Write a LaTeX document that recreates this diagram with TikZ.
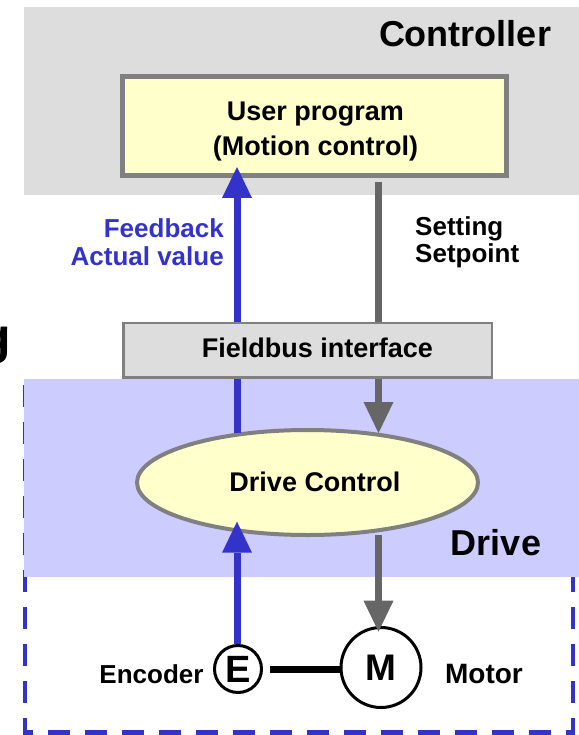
\documentclass[tikz,border=0pt]{standalone}
\usepackage{fontspec}
\setmainfont{Liberation Sans}
\usetikzlibrary{arrows.meta,shapes.geometric}
\definecolor{ctrlgray}{HTML}{DDDDDD}
\definecolor{yellowfill}{HTML}{FFFFCC}
\definecolor{bordergray}{HTML}{808080}
\definecolor{fbblue}{HTML}{3333CC}
\definecolor{arrowgray}{HTML}{666666}
\definecolor{drivebg}{HTML}{CCCCFF}
\begin{document}
\begin{tikzpicture}[x=1pt,y=-1pt,
  every node/.style={inner sep=0pt},
  fsz/.style={font=\bfseries\fontsize{#1}{#1}\selectfont},
  userbox/.style={draw=bordergray, line width=5pt, fill=yellowfill, minimum width=384pt, minimum height=99pt},
  busbox/.style={draw=bordergray, line width=2.5pt, fill=ctrlgray, minimum width=368.5pt, minimum height=54.7pt},
  drivectl/.style={ellipse, draw=bordergray, line width=4pt, fill=yellowfill, minimum width=341pt, minimum height=105pt},
  devcircle/.style={circle, draw=black, line width=3pt, fill=white},
  fbline/.style={draw=fbblue, line width=7pt},
  spline/.style={draw=arrowgray, line width=7pt},
  fbarrow/.style={fbline, -{Triangle[length=31pt,width=30pt,line width=0pt]}},
  sparrow/.style={spline, -{Triangle[length=31pt,width=30pt,line width=0pt]}},
  shaft/.style={draw=black, line width=7pt},
  dashrect/.style={draw=fbblue, line width=4.5pt, dash pattern=on 22pt off 15pt}
]
\useasboundingbox (0,0) rectangle (578,735);
% background regions
\fill[ctrlgray] (24,7) rectangle (580,195);
\draw[dashrect] (25,385) rectangle (573,732.5);
\fill[drivebg] (24,379) rectangle (580,577);
% cut-off text at left edge
\node[fsz=50, anchor=base east] (gfrag) at (11.5,353.5) {g};
% reference columns
\coordinate (bx) at (237,0);
\coordinate (sx) at (378.5,0);
% boxes
\node[userbox] (UP) at (314.5,126) {};
\node[font=\bfseries\fontsize{27}{35}\selectfont, align=center, anchor=north] (UPtext) at (315.5,101.7) {User program\\(Motion control)};
\node[busbox] (FB) at (307.5,350.3) {};
\node[fsz=27, anchor=base] (FBtext) at (317.4,357.7) {Fieldbus interface};
\node[drivectl] (DC) at (307.5,482.5) {};
\node[fsz=27, anchor=base] (DCtext) at (315,491) {Drive Control};
\node[devcircle, minimum size=47pt, fsz=38] (E) at (238,669) {E};
\node[devcircle, minimum size=80pt, fsz=37] (M) at (381,667.5) {M};
% labels
\node[fsz=36, anchor=base] (ctrllbl) at (465,46.7) {Controller};
\node[fsz=36, anchor=base] (drivelbl) at (496,555) {Drive};
\node[fsz=26, anchor=base] (enclbl) at (151.5,683) {Encoder};
\node[fsz=28, anchor=base] (motlbl) at (484,683) {Motor};
\node[font=\bfseries\fontsize{26}{28.3}\selectfont, text=fbblue, align=right, anchor=north east] (fbtext) at (224,218.1) {Feedback\\Actual value};
\node[font=\bfseries\fontsize{26}{27.7}\selectfont, align=left, anchor=north west] (sptext) at (415,216) {Setting\\Setpoint};
% connectors: feedback (blue)
\draw[fbarrow, shorten >=-11pt] (FB.north -| bx) -- (UP.south -| bx);
\draw[fbline, shorten >=-4.7pt] (FB.south -| bx) -- (DC.north -| bx);
\draw[fbarrow, shorten >=-15.3pt] (E.north -| bx) -- (DC.south -| bx);
% connectors: setpoint (gray)
\draw[spline, shorten <=4pt] (UP.south -| sx) -- (FB.north -| sx);
\draw[sparrow, shorten >=-5pt] (FB.south -| sx) -- (DC.north -| sx);
\draw[sparrow, shorten <=-2pt, shorten >=-5.7pt] (DC.south -| sx) -- (M.north -| sx);
% encoder-motor shaft
\draw[shaft, shorten <=7pt] (E.east) -- (E.east -| M.west);
\end{tikzpicture}
\end{document}
